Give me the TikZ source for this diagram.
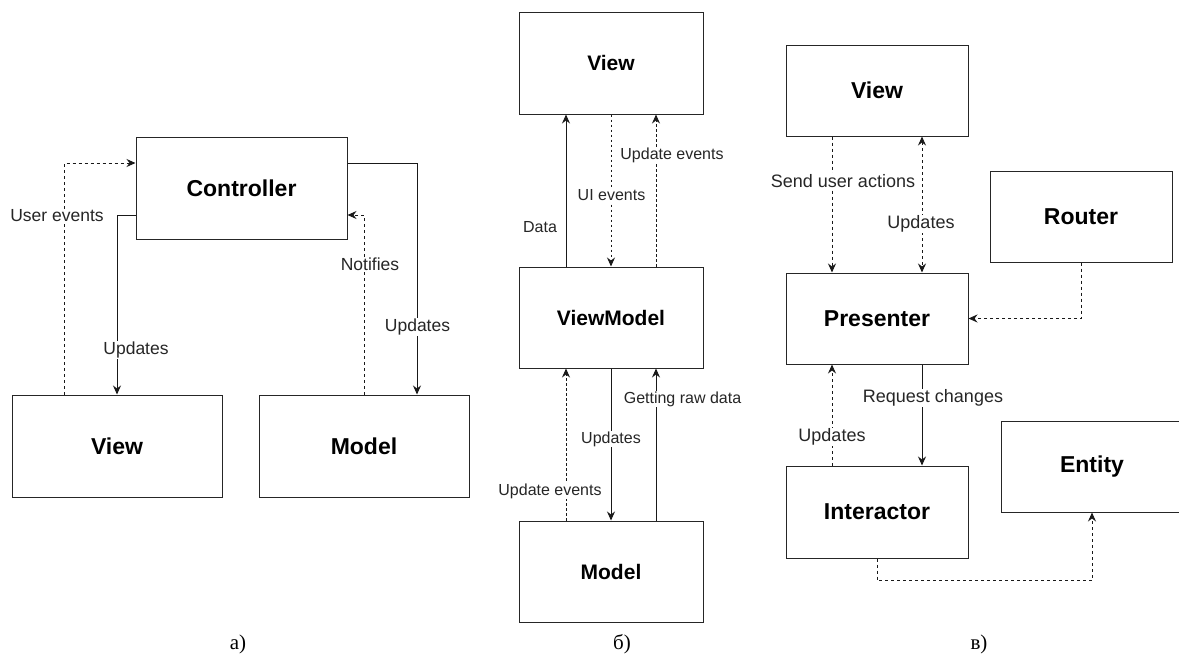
\documentclass[tikz,border=0pt]{standalone}
\usepackage{fontspec}
\setmainfont{Liberation Serif}
\newfontfamily\diagfont{Liberation Sans}
\usetikzlibrary{arrows.meta}
\begin{document}
\begin{tikzpicture}[x=1pt,y=-1pt,
  tip/.tip={Stealth[length=9pt,width=8pt,inset=3pt]},
  box/.style={draw=black!85, line width=1pt, inner sep=0pt},
  bigtxt/.style={font=\diagfont\bfseries\fontsize{23}{27}\selectfont},
  midtxt/.style={font=\diagfont\bfseries\fontsize{21}{25}\selectfont},
  lbl/.style={fill=white, inner sep=1pt, text=black!85, font=\diagfont\fontsize{17.5}{20}\selectfont},
  mlbl/.style={lbl, font=\diagfont\fontsize{16}{19}\selectfont},
  rlbl/.style={lbl, font=\diagfont\fontsize{18}{21}\selectfont},
  flow/.style={line width=1pt, draw=black!90, -tip},
  dflow/.style={flow, dash pattern=on 3pt off 3pt},
  mdflow/.style={flow, dash pattern=on 2.5pt off 2.5pt},
  caption/.style={anchor=base, font=\fontsize{21}{25}\selectfont}]

\path[use as bounding box] (0,0) rectangle (1179,654);
\clip (0,0) rectangle (1179,654);

% ---------- a) MVC ----------
\node[box, bigtxt, minimum width=211pt, minimum height=102pt] (ctrl)   at (241.5,188) {Controller};
\node[box, bigtxt, minimum width=210pt, minimum height=102pt] (lview)  at (117,446) {View};
\node[box, bigtxt, minimum width=210pt, minimum height=102pt] (lmodel) at (364,446) {Model};

\draw[dflow] ([xshift=-53pt]lview.north) |- ([yshift=25pt]ctrl.west);
\draw[flow]  ([yshift=-27pt]ctrl.west) -| (lview.north);
\draw[flow]  ([yshift=25pt]ctrl.east) -| ([xshift=53pt]lmodel.north);
\draw[dflow] (lmodel.north) |- ([yshift=-27pt]ctrl.east);

\node[lbl] (aue) at (57,216) {User events};
\node[lbl] (aup) at (136,350) {Updates};
\node[lbl] (anf) at (370,264) {Notifies};
\node[lbl] (aum) at (417.5,327) {Updates};

% ---------- б) MVVM ----------
\node[box, midtxt, minimum width=184pt, minimum height=102pt] (mview)  at (611,63) {View};
\node[box, midtxt, minimum width=184pt, minimum height=101pt] (mvm)    at (611,317.5) {ViewModel};
\node[box, midtxt, minimum width=184pt, minimum height=101pt] (mmodel) at (611,571.5) {Model};

\draw[flow]   ([xshift=-45pt]mvm.north) -- ([xshift=-45pt]mview.south);
\draw[mdflow] (mview.south) -- (mvm.north);
\draw[mdflow] ([xshift=45pt]mvm.north) -- ([xshift=45pt]mview.south);
\draw[mdflow] ([xshift=-45pt]mmodel.north) -- ([xshift=-45pt]mvm.south);
\draw[flow]   (mvm.south) -- (mmodel.north);
\draw[flow]   ([xshift=45pt]mmodel.north) -- ([xshift=45pt]mvm.south);

\node[mlbl] (bda) at (540,227) {Data};
\node[mlbl] (bui) at (611.5,195) {UI events};
\node[mlbl] (bue) at (672,155) {Update events};
\node[mlbl] (bgr) at (682.5,399) {Getting raw data};
\node[mlbl] (bup) at (611,439) {Updates};
\node[mlbl] (bme) at (550,491) {Update events};

% ---------- в) VIPER ----------
\node[box, bigtxt, minimum width=182pt, minimum height=91pt] (rview)      at (877,90.5) {View};
\node[box, bigtxt, minimum width=182pt, minimum height=91pt] (presenter)  at (877,318.5) {Presenter};
\node[box, bigtxt, minimum width=182pt, minimum height=91pt] (router)     at (1081,216.5) {Router};
\node[box, bigtxt, minimum width=182pt, minimum height=92pt] (interactor) at (877,512) {Interactor};
\node[box, bigtxt, minimum width=182pt, minimum height=91pt] (entity)     at (1092,466.5) {Entity};

\draw[dflow] ([xshift=-45pt]rview.south) -- ([xshift=-45pt]presenter.north);
\draw[dflow, tip-tip] ([xshift=45pt]rview.south) -- ([xshift=45pt]presenter.north);
\draw[dflow] (router.south) |- (presenter.east);
\draw[dflow] ([xshift=-45pt]interactor.north) -- ([xshift=-45pt]presenter.south);
\draw[flow]  ([xshift=45pt]presenter.south) -- ([xshift=45pt]interactor.north);
\draw[dflow] (interactor.south) -- ++(0,22) -| (entity.south);

\node[rlbl] (csu) at (843,181) {Send user actions};
\node[rlbl] (cup) at (921,224) {Updates};
\node[rlbl] (crc) at (933,398) {Request changes};
\node[rlbl] (cui) at (832,437) {Updates};

% ---------- captions ----------
\node[caption] (capa) at (238,649) {а)};
\node[caption] (capb) at (622,649) {б)};
\node[caption] (capc) at (979,649) {в)};
\end{tikzpicture}
\end{document}
